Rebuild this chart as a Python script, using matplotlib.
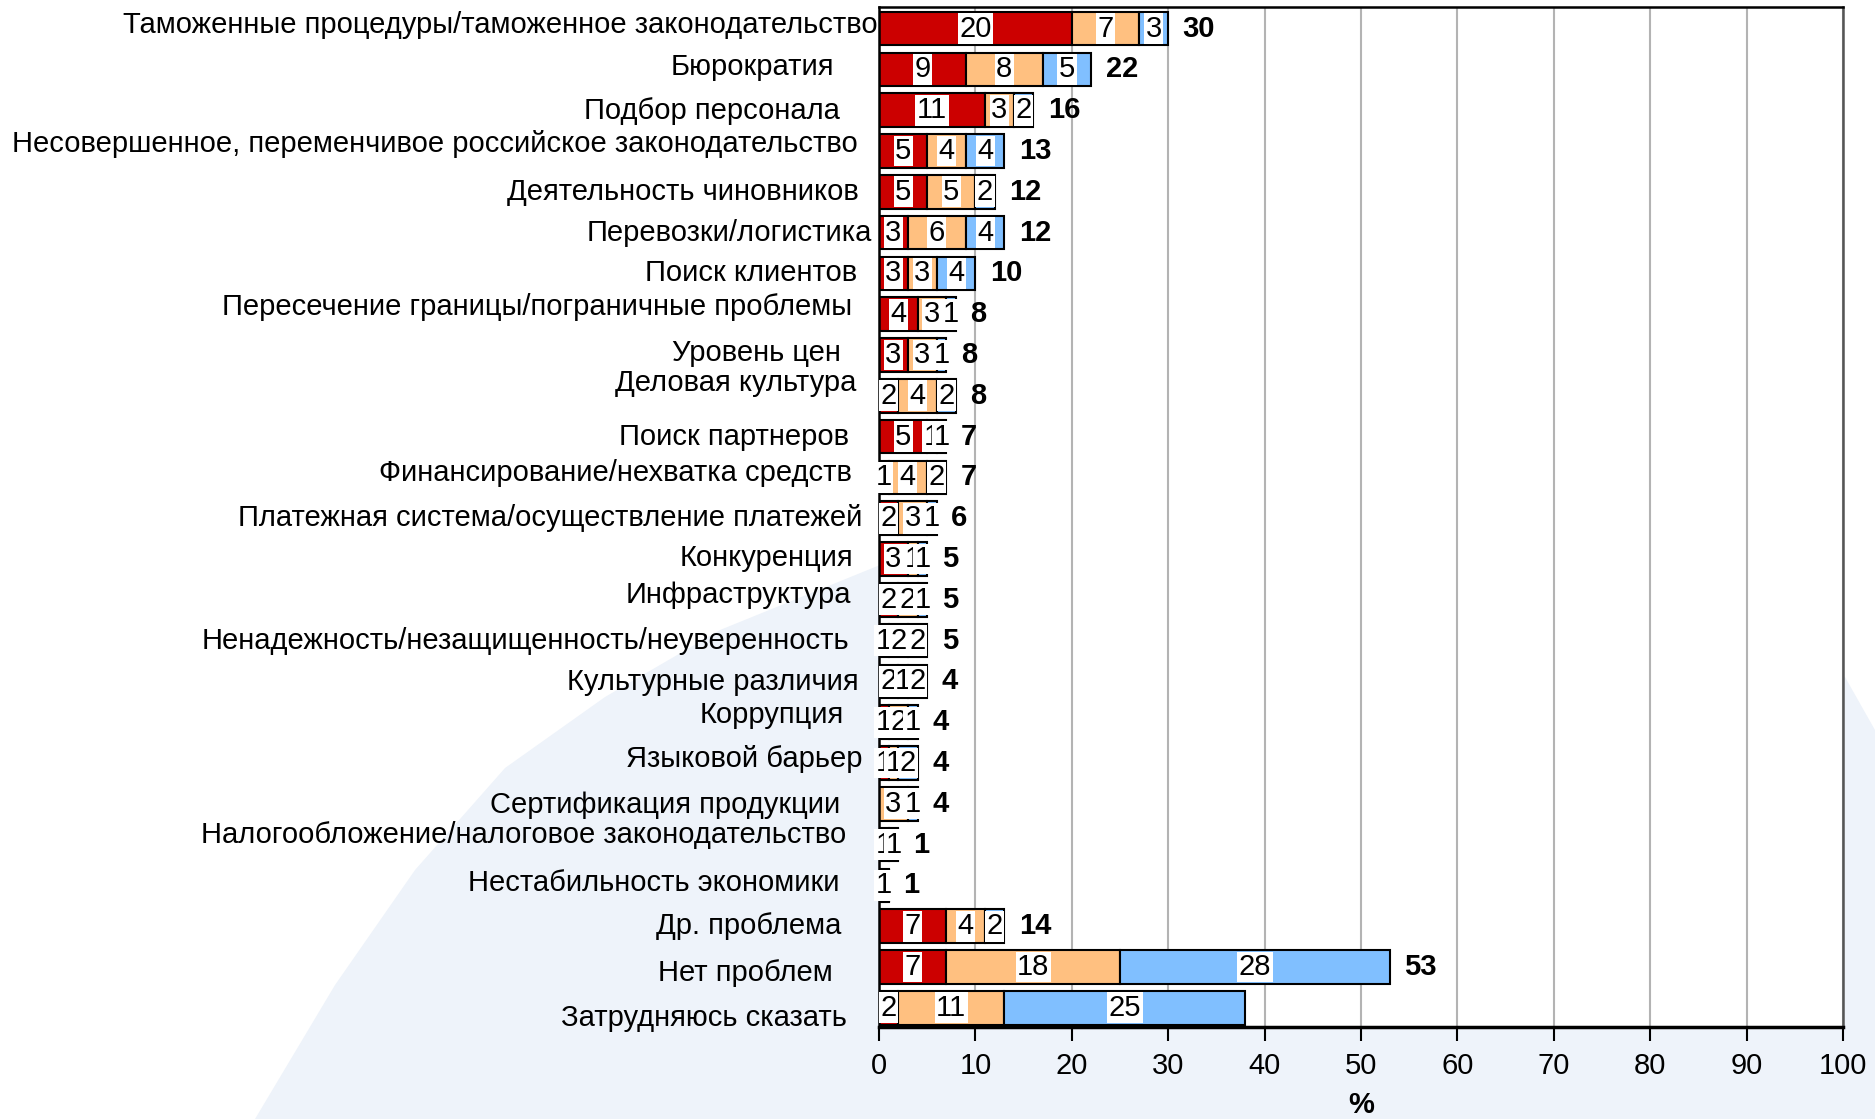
import matplotlib
matplotlib.use('Agg')
import matplotlib.pyplot as plt
from matplotlib.patches import Polygon

plt.rcParams['font.family'] = ['Liberation Sans', 'DejaVu Sans']

# Data (percent of respondents, three sub-groups stacked)
categories = [
    'Таможенные процедуры/таможенное законодательство',
    'Бюрократия',
    'Подбор персонала',
    'Несовершенное, переменчивое российское законодательство',
    'Деятельность чиновников',
    'Перевозки/логистика',
    'Поиск клиентов',
    'Пересечение границы/пограничные проблемы',
    'Уровень цен',
    'Деловая культура',
    'Поиск партнеров',
    'Финансирование/нехватка средств',
    'Платежная система/осуществление платежей',
    'Конкуренция',
    'Инфраструктура',
    'Ненадежность/незащищенность/неуверенность',
    'Культурные различия',
    'Коррупция',
    'Языковой барьер',
    'Сертификация продукции',
    'Налогообложение/налоговое законодательство',
    'Нестабильность экономики',
    'Др. проблема',
    'Нет проблем',
    'Затрудняюсь сказать',
]
red = [20, 9, 11, 5, 5, 3, 3, 4, 3, 2, 5, 1, 2, 3, 2, 1, 2, 1, 1, 0, 1, 1, 7, 7, 2]
orange = [7, 8, 3, 4, 5, 6, 3, 3, 3, 4, 1, 4, 3, 1, 2, 2, 1, 2, 1, 3, 1, 0, 4, 18, 11]
blue = [3, 5, 2, 4, 2, 4, 4, 1, 1, 2, 1, 2, 1, 1, 1, 2, 2, 1, 2, 1, 0, 0, 2, 28, 25]
totals = [30, 22, 16, 13, 12, 12, 10, 8, 8, 8, 7, 7, 6, 5, 5, 5, 4, 4, 4, 4, 1, 1, 14, 53, None]

# label placement quirks of the original (pixels, right edge rel. to axis / vertical shift)
label_dx = [-1, -45, -39, -21, -20, -7, -22, -27, -38, -23, -30, -27, -17,
            -26, -28, -30, -20, -35, -17, -39, -33, -39, -38, -46, -32]
label_dy = [-4, -2, 1, -7, 0, 0, 0, -7, -2, -13, 0, -4, 0,
            -1, -5, 0, 1, -7, -4, 1, -10, -2, 0, 6, 10]

colors = ['#CC0000', '#FFC080', '#80BFFF']
FS = 21.0

fig = plt.figure(figsize=(18.75, 11.19), dpi=100)
fig.patch.set_facecolor('white')

# pale background swoosh (pixel coords, origin top-left)
W, H = 1875, 1119
pts = [(255, 1119), (335, 985), (415, 870), (505, 768), (605, 697), (720, 630),
       (880, 565), (1300, 380), (1845, 677), (1875, 730), (1875, 1119)]
bg = Polygon([(x / W, 1 - y / H) for x, y in pts], closed=True,
             transform=fig.transFigure, facecolor='#EEF3FA', edgecolor='none', zorder=-5)
fig.add_artist(bg)

ax = fig.add_axes([879 / W, 1 - 1027 / H, (1843 - 879) / W, (1027 - 7) / H])
ax.set_facecolor('white')

n = len(categories)
ypos = list(range(n))
left = [0] * n

for k, vals in enumerate([red, orange, blue]):
    ax.barh(ypos, vals, left=left, height=0.82, color=colors[k],
            edgecolor='black', linewidth=1.5, zorder=2)
    for i, v in enumerate(vals):
        if v > 0:
            ax.text(left[i] + v / 2, i, str(v), ha='center', va='center',
                    fontsize=FS, zorder=4,
                    bbox=dict(boxstyle='square,pad=0.05', fc='white', ec='none'))
    left = [l + v for l, v in zip(left, vals)]

for i, t in enumerate(totals):
    if t is not None:
        ax.text(left[i] + 1.5, i, str(t), ha='left', va='center',
                fontsize=FS, fontweight='bold', zorder=4)

for i, name in enumerate(categories):
    ax.annotate(name, xy=(0, i), xycoords=('axes fraction', 'data'),
                xytext=(label_dx[i], -label_dy[i]), textcoords='offset pixels',
                ha='right', va='center', fontsize=FS, annotation_clip=False)

ax.set_ylim(n - 1 + 0.47, -0.53)
ax.set_xlim(0, 100)
ax.set_xticks(range(0, 101, 10))
ax.set_yticks([])
ax.xaxis.grid(True, color='#B3B3B3', linewidth=1.5, zorder=0)
ax.set_axisbelow(True)
ax.tick_params(axis='x', direction='out', length=10, width=1.5, labelsize=FS, pad=8)
ax.set_xlabel('%', fontsize=FS, fontweight='bold', labelpad=8)

for side in ('top', 'left'):
    ax.spines[side].set_linewidth(1.8)
    ax.spines[side].set_color('black')
ax.spines['bottom'].set_linewidth(2.5)
ax.spines['right'].set_linewidth(1.8)
ax.spines['right'].set_color('#555555')

fig.savefig('out.png', dpi=100)
plt.close()
